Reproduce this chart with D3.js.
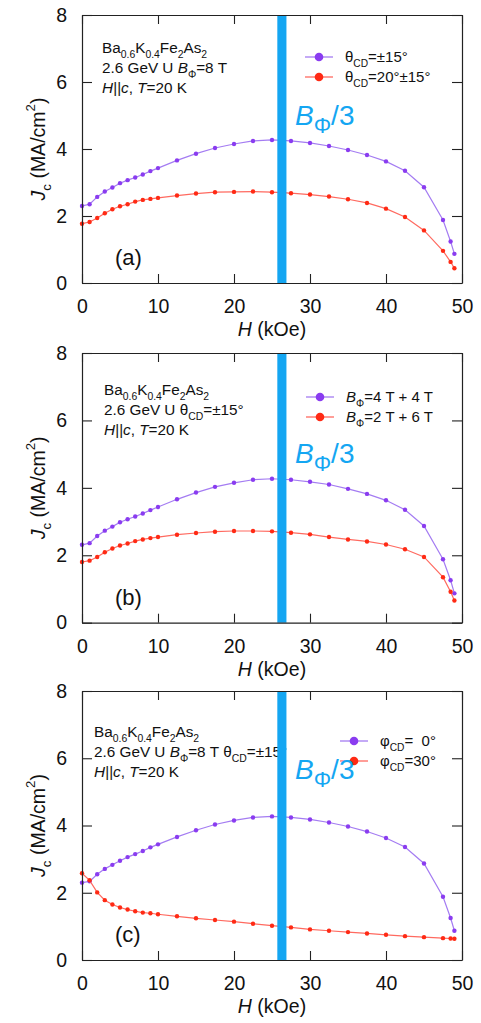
<!DOCTYPE html>
<html>
<head>
<meta charset="utf-8">
<script src="https://cdn.jsdelivr.net/npm/d3@7"></script>
<style>
  body { margin: 0; background: #fff; }
  svg { font-family: "Liberation Sans", Arial, sans-serif; }
</style>
</head>
<body>
<svg id="chart" width="481" height="1023"></svg>
<script>
// field values (kOe), shared by every curve
let hVals = [0, 1, 2, 3, 4, 5, 6, 7, 8, 9, 10, 12.5, 15, 17.5, 20, 22.5, 25, 27.5, 30, 32.5, 35, 37.5, 40, 42.5, 45, 47.5, 48.5, 49]

// Jc (MA/cm2)
let jcTheta15 = [2.30, 2.35, 2.57, 2.73, 2.85, 2.98, 3.07, 3.15, 3.24, 3.34, 3.43, 3.66, 3.86, 4.03, 4.15, 4.24, 4.27, 4.24, 4.18, 4.09, 3.97, 3.82, 3.63, 3.35, 2.86, 1.88, 1.24, 0.87]
let jcTheta20 = [1.77, 1.82, 1.94, 2.08, 2.20, 2.29, 2.35, 2.43, 2.48, 2.51, 2.54, 2.61, 2.67, 2.71, 2.72, 2.73, 2.71, 2.68, 2.64, 2.58, 2.50, 2.39, 2.22, 1.97, 1.57, 0.96, 0.63, 0.44]
let jcB44 = [2.31, 2.36, 2.57, 2.73, 2.85, 2.98, 3.07, 3.15, 3.24, 3.34, 3.43, 3.66, 3.86, 4.03, 4.15, 4.24, 4.27, 4.24, 4.18, 4.10, 3.97, 3.82, 3.63, 3.35, 2.87, 1.88, 1.26, 0.87]
let jcB26 = [1.80, 1.84, 1.95, 2.09, 2.20, 2.29, 2.35, 2.42, 2.47, 2.51, 2.54, 2.61, 2.66, 2.70, 2.72, 2.72, 2.71, 2.67, 2.62, 2.54, 2.47, 2.41, 2.32, 2.18, 1.95, 1.35, 0.92, 0.66]
let jcPhi0 = [2.30, 2.34, 2.55, 2.71, 2.83, 2.95, 3.06, 3.15, 3.24, 3.35, 3.44, 3.66, 3.86, 4.03, 4.15, 4.24, 4.27, 4.24, 4.18, 4.09, 3.97, 3.82, 3.63, 3.36, 2.87, 1.88, 1.25, 0.87]
let jcPhi30 = [2.58, 2.37, 2.01, 1.78, 1.65, 1.56, 1.50, 1.45, 1.41, 1.39, 1.36, 1.30, 1.24, 1.19, 1.14, 1.08, 1.02, 0.97, 0.91, 0.87, 0.83, 0.79, 0.75, 0.71, 0.68, 0.65, 0.64, 0.63]

let xTicks = [0, 10, 20, 30, 40, 50]
let yTicks = [0, 2, 4, 6, 8]
let bPhiThird = 26.3   // B_phi/3 position (kOe)
let bandHalf = 0.6

let purpleLine = "#a47cf2", purpleDot = "#8a3cf0"
let redLine = "#ff6a60", redDot = "#ff2a14"
let blue = "#14a6f2"

let svg = d3.select('#chart')
let margin = {left: 82, right: 19}
let x = d3.scaleLinear().domain([0, 50]).range([margin.left, 481 - margin.right])

// text helper: parts = [[string, style]] where style: i = italic, sub, sup
function richText(g, px, py, parts, size, fill, subScale) {
    let ss = subScale || 0.68
    let t = g.append("text").attr("x", px).attr("y", py)
        .style("font-size", size + "px").attr("fill", fill || "#111")
        .style("white-space", "pre")
    let shift = 0
    parts.forEach(function (p) {
        let s = p[1] || ""
        let span = t.append("tspan").text(p[0])
        let target = 0
        if (s.indexOf("sub") >= 0) { target = size * 0.3; span.style("font-size", (size * ss) + "px") }
        if (s.indexOf("sup") >= 0) { target = -size * 0.5; span.style("font-size", (size * ss) + "px") }
        if (s.indexOf("i") === 0 || s.indexOf(" i") >= 0) span.style("font-style", "italic")
        if (target !== shift) { span.attr("dy", target - shift); shift = target }
    })
    return t
}

let panels = [
    {top: 15, bottom: 283, label: "(a)",
        a: jcTheta15, b: jcTheta20,
        info: [
            [["Ba"], ["0.6", "sub"], ["K"], ["0.4", "sub"], ["Fe"], ["2", "sub"], ["As"], ["2", "sub"]],
            [["2.6 GeV U "], ["B", "i"], ["Φ", "sub"], ["=8 T"]],
            [["H||c", "i"], [", "], ["T", "i"], ["=20 K"]]
        ], infoX: 102, infoY: 38,
        legX: 305, legY: 42,
        legA: [["θ"], ["CD", "sub"], ["=±15°"]],
        legB: [["θ"], ["CD", "sub"], ["=20°±15°"]],
        phiY: 110},
    {top: 353, bottom: 622.7, label: "(b)",
        a: jcB44, b: jcB26,
        info: [
            [["Ba"], ["0.6", "sub"], ["K"], ["0.4", "sub"], ["Fe"], ["2", "sub"], ["As"], ["2", "sub"]],
            [["2.6 GeV U θ"], ["CD", "sub"], ["=±15°"]],
            [["H||c", "i"], [", "], ["T", "i"], ["=20 K"]]
        ], infoX: 104, infoY: 42,
        legX: 306, legY: 44,
        legA: [["B", "i"], ["Φ", "sub"], ["=4 T + 4 T"]],
        legB: [["B", "i"], ["Φ", "sub"], ["=2 T + 6 T"]],
        phiY: 110},
    {top: 691, bottom: 960, label: "(c)",
        a: jcPhi0, b: jcPhi30,
        info: [
            [["Ba"], ["0.6", "sub"], ["K"], ["0.4", "sub"], ["Fe"], ["2", "sub"], ["As"], ["2", "sub"]],
            [["2.6 GeV U "], ["B", "i"], ["Φ", "sub"], ["=8 T θ"], ["CD", "sub"], ["=±15°"]],
            [["H||c", "i"], [", "], ["T", "i"], ["=20 K"]]
        ], infoX: 94, infoY: 46,
        legX: 340, legY: 50,
        legA: [["φ"], ["CD", "sub"], ["=\u00a0\u00a00°"]],
        legB: [["φ"], ["CD", "sub"], ["=30°"]],
        phiY: 88}
]

panels.forEach(function (p) {
    let g = svg.append("g")
    let y = d3.scaleLinear().domain([0, 8]).range([p.bottom, p.top])
    let x0 = x.range()[0], x1 = x.range()[1]

    // info text
    p.info.forEach(function (line, i) {
        richText(g, p.infoX, p.top + p.infoY + i * 20, line, 15.3)
    })

    // legend
    let legs = [[p.legA, purpleLine, purpleDot], [p.legB, redLine, redDot]]
    legs.forEach(function (l, i) {
        let ly = p.top + p.legY + i * 20
        g.append("line").attr("x1", p.legX).attr("x2", p.legX + 28)
            .attr("y1", ly).attr("y2", ly).attr("stroke", l[1]).attr("stroke-width", 1.3)
        g.append("circle").attr("cx", p.legX + 14).attr("cy", ly).attr("r", 4.3).attr("fill", l[2])
        richText(g, p.legX + 40, ly + 5, l[0], 15)
    })

    // curves
    let line = d3.line().x(function (d) { return x(d[0]) }).y(function (d) { return y(d[1]) })
    let series = [[p.a, purpleLine, purpleDot], [p.b, redLine, redDot]]
    series.forEach(function (s) {
        let pts = hVals.map(function (h, i) { return [h, s[0][i]] })
        g.append("path").datum(pts).attr("d", line)
            .attr("fill", "none").attr("stroke", s[1]).attr("stroke-width", 1.2)
        g.selectAll(null).data(pts).enter().append("circle")
            .attr("cx", function (d) { return x(d[0]) })
            .attr("cy", function (d) { return y(d[1]) })
            .attr("r", 2.2).attr("fill", s[2])
    })

    // B_phi/3 band
    g.append("rect")
        .attr("x", x(bPhiThird - bandHalf)).attr("width", x(bPhiThird + bandHalf) - x(bPhiThird - bandHalf))
        .attr("y", p.top).attr("height", p.bottom - p.top)
        .attr("fill", blue)
    richText(g, 295, p.top + p.phiY, [["B", "i"], ["Φ", "sub"], ["/3"]], 28, blue, 0.78)

    // panel label
    g.append("text").attr("x", 115).attr("y", p.bottom - 18).text(p.label)
        .style("font-size", "22px").attr("fill", "#111")

    // axes with inward ticks on all four sides
    g.append("g").attr("transform", "translate(0," + p.bottom + ")")
        .call(d3.axisBottom(x).tickValues(xTicks).tickSizeInner(-9).tickSizeOuter(0).tickPadding(16))
        .call(function (a) { a.selectAll("text").style("font-size", "19.5px").attr("fill", "#111") })
    g.append("g").attr("transform", "translate(0," + p.top + ")")
        .call(d3.axisTop(x).tickValues(xTicks).tickSizeInner(-9).tickSizeOuter(0).tickFormat(""))
    g.append("g").attr("transform", "translate(" + x0 + ",0)")
        .call(d3.axisLeft(y).tickValues(yTicks).tickSizeInner(-10).tickSizeOuter(0).tickPadding(15))
        .call(function (a) { a.selectAll("text").style("font-size", "19.5px").attr("fill", "#111") })
    g.append("g").attr("transform", "translate(" + x1 + ",0)")
        .call(d3.axisRight(y).tickValues(yTicks).tickSizeInner(-10).tickSizeOuter(0).tickFormat(""))
    g.selectAll(".domain").attr("stroke", "#222").attr("stroke-width", 1.2)
    g.selectAll(".tick line").attr("stroke", "#222").attr("stroke-width", 1.1)
    g.selectAll("g[fill]").attr("font-family", null).attr("font-size", null)

    // axis titles
    let xt = richText(g, x(25), p.bottom + 53, [["H", "i"], [" (kOe)"]], 19.5)
    xt.attr("text-anchor", "middle")
    let yt = richText(g, 0, 0, [["J", "i"], ["c", "sub"], [" (MA/cm"], ["2", "sup"], [")"]], 19.5)
    yt.attr("text-anchor", "middle")
        .attr("transform", "translate(45," + ((p.top + p.bottom) / 2) + ") rotate(-90)")
})
</script>
</body>
</html>
